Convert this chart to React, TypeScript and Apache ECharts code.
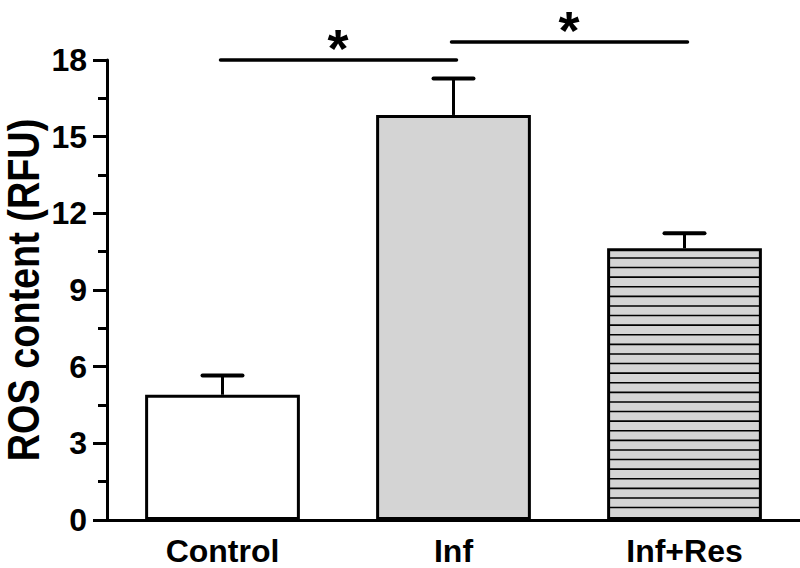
import React, { useEffect, useRef } from "react";
import * as echarts from "echarts";

const categories = ["Control", "Inf", "Inf+Res"];
const means = [4.9, 15.85, 10.63];
const errors = [0.75, 1.43, 0.59];
const barColors = ["#ffffff", "#d4d4d4", "#d4d4d4"];
const hatched = [0, 0, 1];
const sigFrom = [0, 1];
const sigTo = [1, 2];
const sigLevel = [18.0, 18.7];
const sigText = ["*", "*"];
const yTicks = { min: 0, max: 18, interval: 3 };
const yTitle = "ROS content (RFU)";

const BAR_FRAC = 0.67;
const FONT = '"Liberation Sans", Arial, sans-serif';

export default function App() {
  const ref = useRef<HTMLDivElement>(null);
  useEffect(() => {
    if (!ref.current) return;
    const chart = echarts.init(ref.current, null, { renderer: "svg" });

    const barData = means.map((v, i) => ({
      value: v,
      itemStyle: { color: barColors[i] },
    }));

    const option: any = {
      animation: false,
      backgroundColor: "#ffffff",
      grid: { left: 107, right: 0, top: 60, bottom: 48 },
      graphic: [
        {
          type: "text",
          x: 24,
          y: 290,
          rotation: Math.PI / 2,
          scaleX: 0.86,
          style: {
            text: yTitle,
            fill: "#000",
            font: "bold 44px " + FONT,
            textAlign: "center",
            textVerticalAlign: "middle",
          },
        },
      ],
      xAxis: {
        type: "category",
        data: categories,
        axisLine: { lineStyle: { color: "#000", width: 3 } },
        axisTick: { alignWithLabel: true, length: 13, lineStyle: { color: "#000", width: 3 } },
        axisLabel: { color: "#000", fontFamily: FONT, fontWeight: "bold", fontSize: 32, lineHeight: 28, margin: 17 },
      },
      yAxis: {
        type: "value",
        min: yTicks.min,
        max: yTicks.max,
        interval: yTicks.interval,
        axisLine: { show: true, lineStyle: { color: "#000", width: 3 } },
        axisTick: { show: true, length: 14, lineStyle: { color: "#000", width: 3 } },
        minorTick: { show: true, splitNumber: 2, length: 9, lineStyle: { color: "#000", width: 3 } },
        splitLine: { show: false },
        axisLabel: { color: "#000", fontFamily: FONT, fontWeight: "bold", fontSize: 32, margin: 20 },
      },
      series: [
        {
          type: "bar",
          data: barData,
          barWidth: BAR_FRAC * 100 + "%",
          itemStyle: { borderColor: "#000", borderWidth: 3 },
          z: 2,
        },
        {
          type: "custom",
          z: 3,
          clip: false,
          data: means.map((v, i) => [i, v, hatched[i]]),
          renderItem: (params: any, api: any) => {
            if (!api.value(2)) return { type: "group", children: [] };
            const top = api.coord([api.value(0), api.value(1)]);
            const base = api.coord([api.value(0), 0]);
            const w = api.size([1, 0])[0] * BAR_FRAC;
            const x0 = top[0] - w / 2 + 2;
            const x1 = top[0] + w / 2 - 2;
            const children: any[] = [];
            for (let y = top[1] + 9.6; y < base[1] - 3; y += 9.6) {
              children.push({
                type: "line",
                shape: { x1: x0, y1: y, x2: x1, y2: y },
                style: { stroke: "#000", lineWidth: 1.6 },
              });
            }
            return { type: "group", children };
          },
        },
        {
          type: "custom",
          z: 4,
          clip: false,
          data: means.map((v, i) => [i, v, v + errors[i]]),
          renderItem: (params: any, api: any) => {
            const p0 = api.coord([api.value(0), api.value(1)]);
            const p1 = api.coord([api.value(0), api.value(2)]);
            const cap = 20;
            return {
              type: "group",
              children: [
                { type: "line", shape: { x1: p0[0], y1: p0[1], x2: p1[0], y2: p1[1] }, style: { stroke: "#000", lineWidth: 3 } },
                { type: "line", shape: { x1: p1[0] - cap, y1: p1[1], x2: p1[0] + cap, y2: p1[1] }, style: { stroke: "#000", lineWidth: 4, lineCap: "round" } },
              ],
            };
          },
        },
        {
          type: "custom",
          z: 4,
          clip: false,
          data: sigFrom.map((f, i) => [f, sigTo[i], sigLevel[i], i]),
          renderItem: (params: any, api: any) => {
            const a = api.coord([api.value(0), api.value(2)]);
            const b = api.coord([api.value(1), api.value(2)]);
            const idx = api.value(3);
            return {
              type: "group",
              children: [
                { type: "line", shape: { x1: a[0] - 2, y1: a[1], x2: b[0] + 3, y2: b[1] }, style: { stroke: "#000", lineWidth: 3.5, lineCap: "round" } },
                {
                  type: "text",
                  x: (a[0] + b[0]) / 2,
                  y: a[1] - 12.5,
                  style: {
                    text: sigText[idx],
                    fill: "#000",
                    font: "bold 54px " + FONT,
                    textAlign: "center",
                    textVerticalAlign: "middle",
                  },
                },
              ],
            };
          },
        },
      ],
    };
    chart.setOption(option);
    return () => chart.dispose();
  }, []);
  return <div ref={ref} style={{ position: "absolute", left: 0, top: 0, width: 800, height: 568 }} />;
}
